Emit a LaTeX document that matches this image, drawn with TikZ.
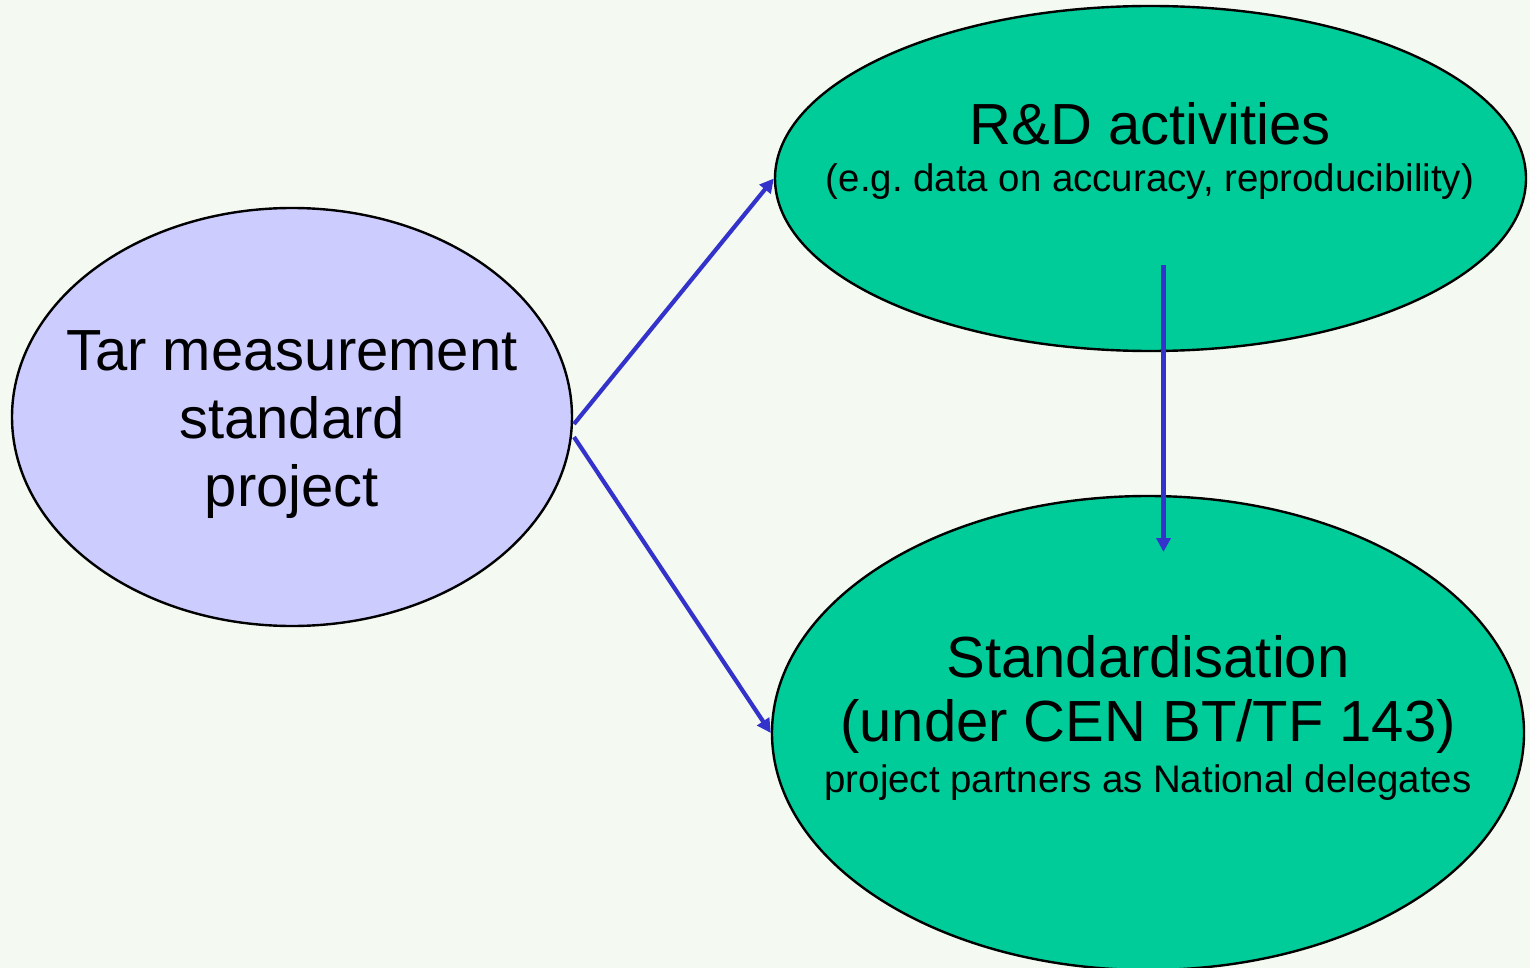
\documentclass[tikz,border=0pt]{standalone}
\usepackage{fontspec}
\setmainfont{Liberation Sans}
\usetikzlibrary{shapes.geometric,arrows.meta}
\definecolor{bgcol}{HTML}{F4F9F1}
\definecolor{lilac}{HTML}{CCCCFF}
\definecolor{rdgreen}{HTML}{00CC99}
\definecolor{arrcol}{HTML}{3333CC}
\frenchspacing
\begin{document}
\begin{tikzpicture}[x=1pt,y=-1pt,
  blob/.style={ellipse, draw=black, line width=2.4pt, inner sep=0pt},
  big/.style={font=\fontsize{58}{69}\selectfont, anchor=base, inner sep=0pt},
  small/.style={font=\fontsize{38.4}{46}\selectfont, anchor=base, inner sep=0pt},
  conn/.style={draw=arrcol, line width=4.2pt, -{Triangle[length=14pt,width=14pt]}}]
\path[fill=bgcol] (0,0) rectangle (1530,968);
\useasboundingbox (0,0) rectangle (1530,968);
\begin{scope}
\clip (0,0) rectangle (1530,968);
\node[blob, fill=lilac, minimum width=560pt, minimum height=418pt] (tar) at (292,417) {};
\node[blob, fill=rdgreen, minimum width=751pt, minimum height=345pt] (rd) at (1150.5,178.5) {};
\node[blob, fill=rdgreen, minimum width=752pt, minimum height=474pt] (std) at (1148,733) {};

\node[big] (t1) at (292,370) {Tar measurement};
\node[big] (t2) at (292,438) {standard};
\node[big] (t3) at (292,506) {project};

\node[big] (r1) at (1150,145) {R\&D activities};
\node[small] (r2) at (1150,192) {(e.g. data on accuracy, reproducibility)};

\node[big] (s1) at (1148,677) {Standardisation};
\node[big] (s2) at (1148,741) {(under CEN BT/TF 143)};
\node[small] (s3) at (1148,792) {project partners as National delegates};

\coordinate (a1s) at (574,424);
\coordinate (a2s) at (574,437);
\coordinate (a3s) at (1163.5,265);
\coordinate (a3e) at (1163.5,552);
\draw[conn] (a1s) -- (rd.west);
\draw[conn] (a2s) -- (std.west);
\draw[conn] (a3s) -- (a3e);
\end{scope}
\end{tikzpicture}
\end{document}
